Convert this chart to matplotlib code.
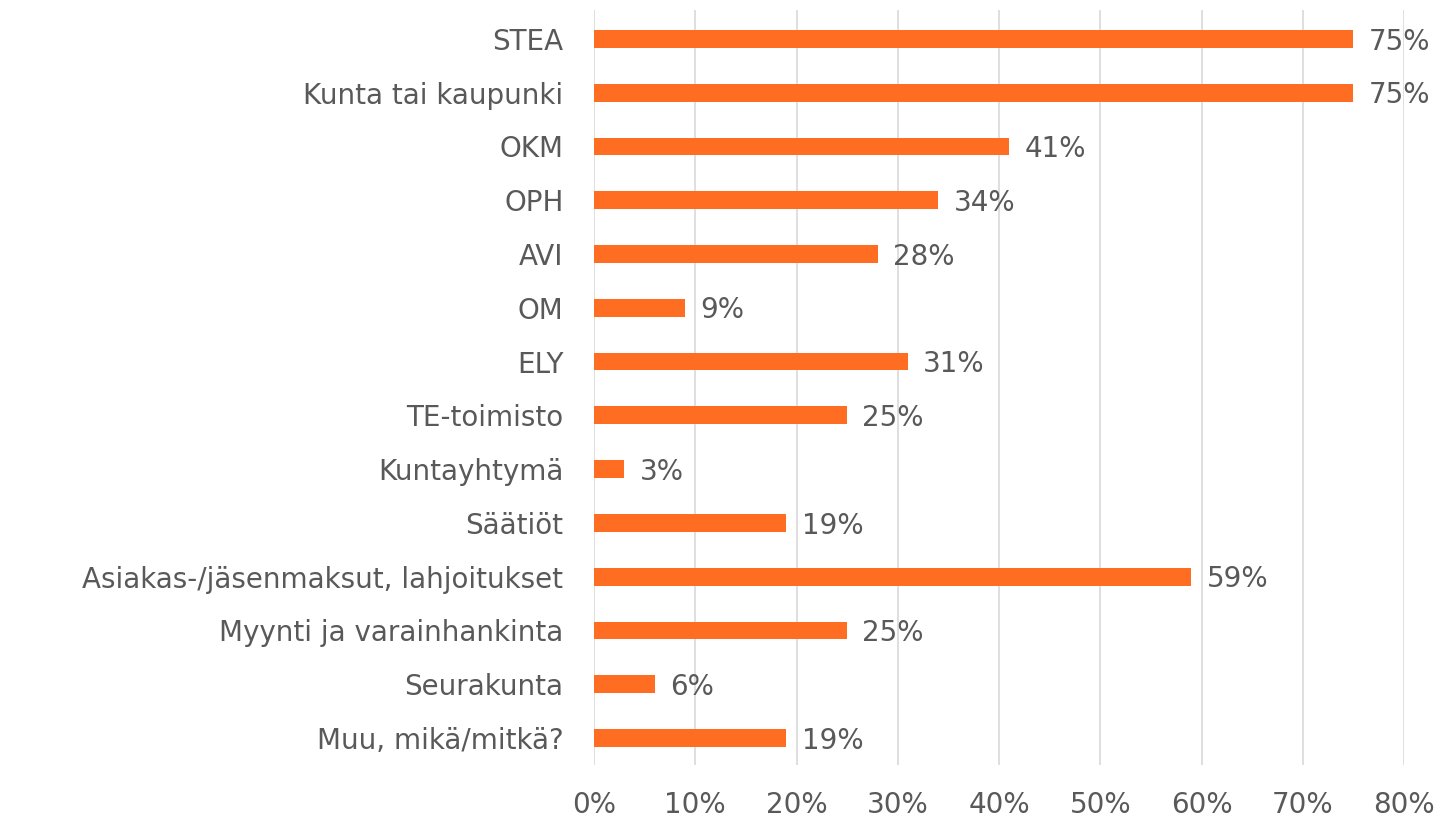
import matplotlib
matplotlib.use("Agg")
import matplotlib.pyplot as plt
from matplotlib.ticker import FuncFormatter

plt.rcParams["font.family"] = ["DejaVu Sans"]

# survey data: share of respondents naming each funding source (%)
categories = [
    "STEA", "Kunta tai kaupunki", "OKM", "OPH", "AVI", "OM", "ELY",
    "TE-toimisto", "Kuntayhtymä", "Säätiöt",
    "Asiakas-/jäsenmaksut, lahjoitukset", "Myynti ja varainhankinta",
    "Seurakunta", "Muu, mikä/mitkä?",
]
values = [75, 75, 41, 34, 28, 9, 31, 25, 3, 19, 59, 25, 6, 19]
xticks = [0, 10, 20, 30, 40, 50, 60, 70, 80]

ORANGE = "#FF6D22"
TEXT = "#595959"
GRID = "#D9D9D9"
FS = 20

fig = plt.figure(figsize=(14.4, 8.19), dpi=100)
ax = fig.add_axes([0.4125, 0.066, 0.5625, 0.922])

ypos = list(range(len(categories)))
ax.barh(ypos, values, height=0.33, color=ORANGE, zorder=3)
for y, v in zip(ypos, values):
    ax.text(v + 1.5, y + 0.05, f"{v}%", va="center", ha="left",
            fontsize=FS, color=TEXT, zorder=4)

ax.set_ylim(len(categories) - 0.5, -0.54)
ax.set_xlim(0, 80)
ax.set_yticks(ypos)
ax.set_yticklabels(categories)
ax.set_xticks(xticks)
ax.xaxis.set_major_formatter(FuncFormatter(lambda x, _: f"{x:.0f}%"))

ax.grid(axis="x", color=GRID, linewidth=1.2, zorder=0)
for s in ax.spines.values():
    s.set_visible(False)
ax.tick_params(axis="y", length=0, pad=22, labelsize=FS, labelcolor=TEXT)
ax.tick_params(axis="x", length=0, pad=19, labelsize=FS, labelcolor=TEXT)

fig.savefig("out.png", dpi=100)
